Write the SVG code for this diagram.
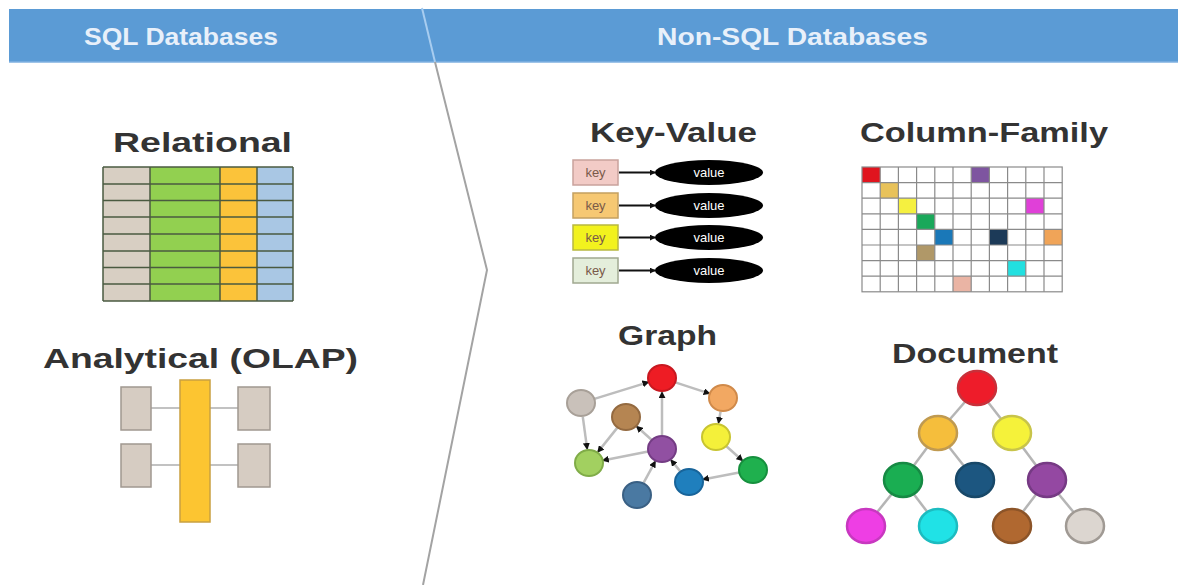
<svg xmlns="http://www.w3.org/2000/svg" width="1178" height="585" viewBox="0 0 1178 585">
<defs>
<style>
.hdr{font-family:"Liberation Sans",Arial,sans-serif;font-weight:bold;font-size:24px;fill:#e8f0fa}
.ttl{font-family:"Liberation Sans",Arial,sans-serif;font-weight:bold;font-size:28px;fill:#333333}
.key{font-family:"Liberation Sans",Arial,sans-serif;font-size:13px;fill:#7a5a4a}
.val{font-family:"Liberation Sans",Arial,sans-serif;font-size:13px;fill:#ffffff}
.gedge{stroke:#bdbdbd;stroke-width:2.5;fill:none}
.dedge{stroke:#b5b5b5;stroke-width:2.5;fill:none}
.grid{stroke:#8a8a8a;stroke-width:1.2;fill:none}
.trow{stroke:#4a5a40;stroke-width:1.5}
</style>
<marker id="ah" viewBox="0 0 8 8" refX="7" refY="4" markerWidth="7" markerHeight="7" markerUnits="userSpaceOnUse" orient="auto">
<path d="M0,0 L8,4 L0,8 Z" fill="#111111"/>
</marker>
<marker id="ak" viewBox="0 0 8 8" refX="7" refY="4" markerWidth="6" markerHeight="6" markerUnits="userSpaceOnUse" orient="auto">
<path d="M0,0 L8,4 L0,8 Z" fill="#111111"/>
</marker>
</defs>
<rect width="1178" height="585" fill="#ffffff"/>

<g id="header">
<rect x="9" y="9" width="1169" height="53" fill="#5b9bd5"/>
<line x1="9" y1="62" x2="1178" y2="62" stroke="#7fb0e0" stroke-width="1.5"/>
<text class="hdr" x="84" y="45" textLength="194" lengthAdjust="spacingAndGlyphs">SQL Databases</text>
<text class="hdr" x="657" y="45" textLength="271" lengthAdjust="spacingAndGlyphs">Non-SQL Databases</text>
</g>

<g id="divider">
<line x1="422" y1="8" x2="435" y2="62" stroke="#a8cdf0" stroke-width="2"/>
<polyline points="435,62 487,270 423,585" fill="none" stroke="#a3a3a3" stroke-width="2"/>
</g>

<g id="relational">
<text class="ttl" x="113" y="152" font-size="29" textLength="179" lengthAdjust="spacingAndGlyphs">Relational</text>
<rect x="103" y="167" width="47" height="134" fill="#d8cfc3"/>
<rect x="150" y="167" width="70" height="134" fill="#92d050"/>
<rect x="220" y="167" width="37" height="134" fill="#fbc33a"/>
<rect x="257" y="167" width="36" height="134" fill="#a9c7e4"/>
<g class="trow">
<line x1="103" y1="167" x2="293" y2="167"/>
<line x1="103" y1="184" x2="293" y2="184"/>
<line x1="103" y1="200.5" x2="293" y2="200.5"/>
<line x1="103" y1="217" x2="293" y2="217"/>
<line x1="103" y1="234" x2="293" y2="234"/>
<line x1="103" y1="251" x2="293" y2="251"/>
<line x1="103" y1="267.5" x2="293" y2="267.5"/>
<line x1="103" y1="284" x2="293" y2="284"/>
<line x1="103" y1="301" x2="293" y2="301"/>
<line x1="103" y1="167" x2="103" y2="301"/>
<line x1="150" y1="167" x2="150" y2="301"/>
<line x1="220" y1="167" x2="220" y2="301"/>
<line x1="257" y1="167" x2="257" y2="301"/>
<line x1="293" y1="167" x2="293" y2="301"/>
</g>
</g>

<g id="olap">
<text class="ttl" x="43" y="368" font-size="29" textLength="315" lengthAdjust="spacingAndGlyphs">Analytical (OLAP)</text>
<g stroke="#9a9a9a" stroke-width="1.2">
<line x1="151" y1="408" x2="180" y2="408"/>
<line x1="210" y1="408" x2="238" y2="408"/>
<line x1="151" y1="465" x2="180" y2="465"/>
<line x1="210" y1="465" x2="238" y2="465"/>
</g>
<g fill="#d6ccc2" stroke="#a09890" stroke-width="1.5">
<rect x="121" y="387" width="30" height="43"/>
<rect x="121" y="444" width="30" height="43"/>
<rect x="238" y="387" width="32" height="43"/>
<rect x="238" y="444" width="32" height="43"/>
</g>
<rect x="180" y="380" width="30" height="142" fill="#fcc531" stroke="#c9a040" stroke-width="1.5"/>
</g>

<g id="key-value">
<text class="ttl" x="590" y="142" textLength="167" lengthAdjust="spacingAndGlyphs">Key-Value</text>
<rect x="573" y="160" width="45" height="25" fill="#f2cbc6" stroke="#c9a29c" stroke-width="1.5"/>
<rect x="573" y="193" width="45" height="25" fill="#f6c873" stroke="#c4a060" stroke-width="1.5"/>
<rect x="573" y="225" width="45" height="25" fill="#f2f21e" stroke="#b8b840" stroke-width="1.5"/>
<rect x="573" y="258" width="45" height="25" fill="#e4eedb" stroke="#a0a890" stroke-width="1.5"/>
<text class="key" x="595.5" y="177" text-anchor="middle">key</text>
<text class="key" x="595.5" y="210" text-anchor="middle">key</text>
<text class="key" x="595.5" y="242" text-anchor="middle">key</text>
<text class="key" x="595.5" y="275" text-anchor="middle">key</text>
<g stroke="#111111" stroke-width="2" marker-end="url(#ak)">
<line x1="619" y1="172.5" x2="655" y2="172.5"/>
<line x1="619" y1="205.5" x2="655" y2="205.5"/>
<line x1="619" y1="237.5" x2="655" y2="237.5"/>
<line x1="619" y1="270.5" x2="655" y2="270.5"/>
</g>
<g fill="#000000">
<ellipse cx="709" cy="172.5" rx="54" ry="12.5"/>
<ellipse cx="709" cy="205.5" rx="54" ry="12.5"/>
<ellipse cx="709" cy="237.5" rx="54" ry="12.5"/>
<ellipse cx="709" cy="270.5" rx="54" ry="12.5"/>
</g>
<text class="val" x="709" y="177" text-anchor="middle">value</text>
<text class="val" x="709" y="210" text-anchor="middle">value</text>
<text class="val" x="709" y="242" text-anchor="middle">value</text>
<text class="val" x="709" y="275" text-anchor="middle">value</text>
</g>

<g id="column-family">
<text class="ttl" x="860" y="142" textLength="248" lengthAdjust="spacingAndGlyphs">Column-Family</text>
<rect x="862" y="167" width="18.2" height="15.6" fill="#e0141e"/>
<rect x="971.2" y="167" width="18.2" height="15.6" fill="#7e55a0"/>
<rect x="880.2" y="182.6" width="18.2" height="15.6" fill="#e8c25a"/>
<rect x="898.4" y="198.2" width="18.2" height="15.6" fill="#f5f040"/>
<rect x="1025.8" y="198.2" width="18.2" height="15.6" fill="#e040d8"/>
<rect x="916.6" y="213.8" width="18.2" height="15.6" fill="#1aa85a"/>
<rect x="934.8" y="229.4" width="18.2" height="15.6" fill="#1a78b8"/>
<rect x="989.4" y="229.4" width="18.2" height="15.6" fill="#1c3a58"/>
<rect x="1044" y="229.4" width="18.2" height="15.6" fill="#f0a458"/>
<rect x="916.6" y="245" width="18.2" height="15.6" fill="#b09868"/>
<rect x="1007.6" y="260.6" width="18.2" height="15.6" fill="#22e0e0"/>
<rect x="953" y="276.2" width="18.2" height="15.6" fill="#eab4a4"/>
<g class="grid">
<rect x="862" y="167" width="200.2" height="124.8"/>
<path d="M880.2,167V291.8M898.4,167V291.8M916.6,167V291.8M934.8,167V291.8M953,167V291.8M971.2,167V291.8M989.4,167V291.8M1007.6,167V291.8M1025.8,167V291.8M1044,167V291.8"/>
<path d="M862,182.6H1062.2M862,198.2H1062.2M862,213.8H1062.2M862,229.4H1062.2M862,245H1062.2M862,260.6H1062.2M862,276.2H1062.2"/>
</g>
</g>

<g id="graph">
<text class="ttl" x="618" y="345" textLength="99" lengthAdjust="spacingAndGlyphs">Graph</text>
<g class="gedge" marker-end="url(#ah)">
<line x1="594.4" y1="398.9" x2="648.6" y2="382.1"/>
<line x1="675.3" y1="382.4" x2="709.7" y2="393.6"/>
<line x1="720.5" y1="411.8" x2="718.5" y2="423.2"/>
<line x1="726.4" y1="446.3" x2="742.6" y2="460.7"/>
<line x1="739.2" y1="472.6" x2="702.8" y2="479.4"/>
<line x1="662" y1="435" x2="662" y2="392"/>
<line x1="651.5" y1="439.7" x2="636.5" y2="426.3"/>
<line x1="617.2" y1="427.9" x2="597.8" y2="452.1"/>
<line x1="582.8" y1="416.9" x2="587.2" y2="449.1"/>
<line x1="648.2" y1="451.6" x2="602.7" y2="460.4"/>
<line x1="643.7" y1="482.7" x2="655.3" y2="461.3"/>
<line x1="680.1" y1="471.1" x2="670.9" y2="459.9"/>
</g>
<g stroke-width="2">
<ellipse cx="662" cy="378" rx="14" ry="13" fill="#ee1c24" stroke="#c81820"/>
<ellipse cx="723" cy="398" rx="14" ry="13" fill="#f2a862" stroke="#d08a4a"/>
<ellipse cx="581" cy="403" rx="14" ry="13" fill="#c9c1ba" stroke="#a8a098"/>
<ellipse cx="626" cy="417" rx="14" ry="13" fill="#b58552" stroke="#946a40"/>
<ellipse cx="716" cy="437" rx="14" ry="13" fill="#f4f03a" stroke="#c8c430"/>
<ellipse cx="662" cy="449" rx="14" ry="13" fill="#9150a2" stroke="#743c84"/>
<ellipse cx="589" cy="463" rx="14" ry="13" fill="#a2d060" stroke="#80ac48"/>
<ellipse cx="753" cy="470" rx="14" ry="13" fill="#1fb04e" stroke="#16903e"/>
<ellipse cx="689" cy="482" rx="14" ry="13" fill="#1f7fbd" stroke="#18649a"/>
<ellipse cx="637" cy="495" rx="14" ry="13" fill="#4a79a2" stroke="#3a6084"/>
</g>
</g>

<g id="document">
<text class="ttl" x="892" y="363" textLength="166" lengthAdjust="spacingAndGlyphs">Document</text>
<g class="dedge">
<line x1="977" y1="388" x2="938" y2="433"/>
<line x1="977" y1="388" x2="1012" y2="433"/>
<line x1="938" y1="433" x2="903" y2="480"/>
<line x1="938" y1="433" x2="975" y2="480"/>
<line x1="1012" y1="433" x2="1047" y2="480"/>
<line x1="903" y1="480" x2="866" y2="526"/>
<line x1="903" y1="480" x2="938" y2="526"/>
<line x1="1047" y1="480" x2="1012" y2="526"/>
<line x1="1047" y1="480" x2="1085" y2="526"/>
</g>
<g stroke-width="2.5">
<ellipse cx="977" cy="388" rx="19" ry="17" fill="#ee1c2a" stroke="#c8303a"/>
<ellipse cx="938" cy="433" rx="19" ry="17" fill="#f5be3c" stroke="#c09a50"/>
<ellipse cx="1012" cy="433" rx="19" ry="17" fill="#f5f23a" stroke="#c8c44a"/>
<ellipse cx="903" cy="480" rx="19" ry="17" fill="#1aae52" stroke="#168a44"/>
<ellipse cx="975" cy="480" rx="19" ry="17" fill="#1c5680" stroke="#184868"/>
<ellipse cx="1047" cy="480" rx="19" ry="17" fill="#9448a2" stroke="#763a84"/>
<ellipse cx="866" cy="526" rx="19" ry="17" fill="#ee3ee4" stroke="#c838c0"/>
<ellipse cx="938" cy="526" rx="19" ry="17" fill="#20e2e6" stroke="#1cbcc0"/>
<ellipse cx="1012" cy="526" rx="19" ry="17" fill="#b06830" stroke="#8c5428"/>
<ellipse cx="1085" cy="526" rx="19" ry="17" fill="#dcd6d0" stroke="#a09a94"/>
</g>
</g>
</svg>
